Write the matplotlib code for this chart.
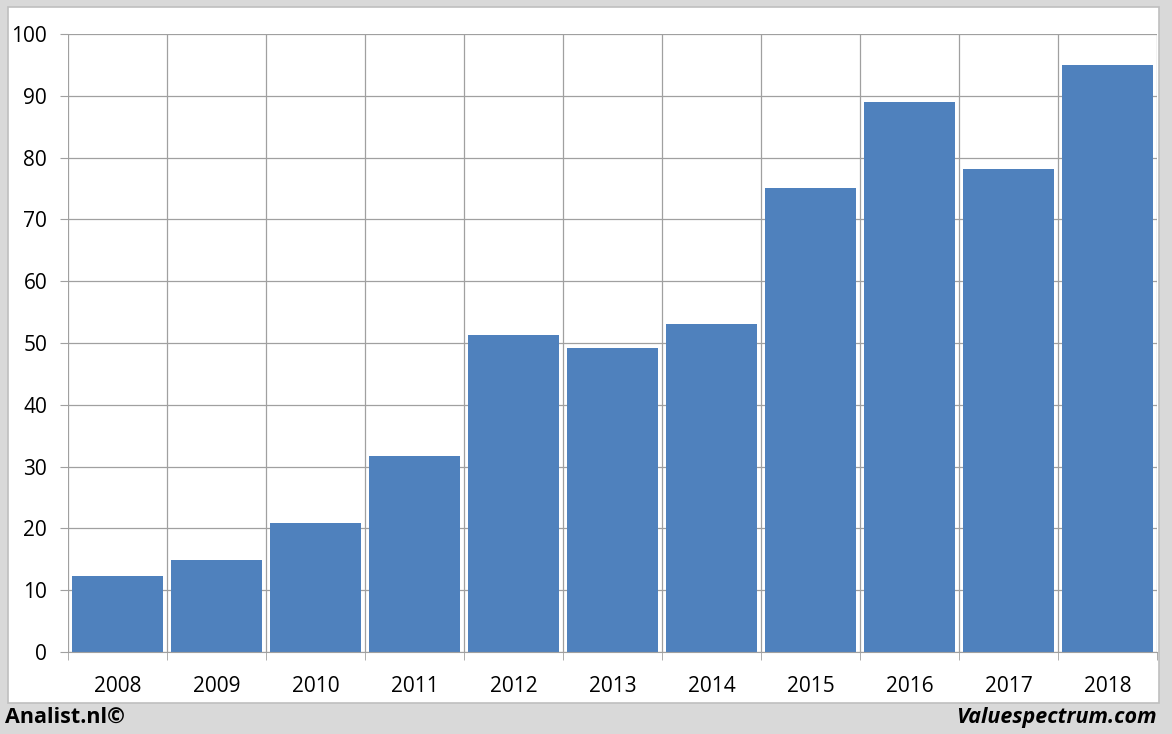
import matplotlib.pyplot as plt
from matplotlib.patches import Rectangle
from matplotlib.ticker import MultipleLocator, FixedLocator
import numpy as np

years = ["2008", "2009", "2010", "2011", "2012", "2013",
         "2014", "2015", "2016", "2017", "2018"]
values = [12.3, 14.9, 20.9, 31.7, 51.3, 49.2, 53.1, 75.1, 89.0, 78.2, 95.0]

plt.rcParams['font.family'] = ['Open Sans', 'DejaVu Sans']

fig = plt.figure(figsize=(11.72, 7.34), dpi=100)
fig.patch.set_facecolor("#d9d9d9")
# white panel behind the chart
fig.patches.append(Rectangle((8 / 1172, 1 - 703 / 734), 1151 / 1172, 696 / 734,
                             transform=fig.transFigure, facecolor="white",
                             edgecolor="#bfbfbf", linewidth=1.2, zorder=-10))

ax = fig.add_axes([68 / 1172, 82 / 734, 1089 / 1172, 618 / 734])
ax.set_facecolor("none")
x = np.arange(len(years))
ax.bar(x, values, width=0.92, color="#4f81bd", zorder=3)

ax.set_xlim(-0.5, len(years) - 0.5)
ax.set_ylim(0, 100)
ax.yaxis.set_major_locator(MultipleLocator(10))
ax.set_xticks(x)
ax.set_xticklabels(years)
ax.xaxis.set_minor_locator(FixedLocator(np.arange(-0.5, len(years), 1)))

gc = "#a0a0a0"
ax.grid(True, axis="y", which="major", color=gc, linewidth=0.9, zorder=0)
ax.grid(True, axis="x", which="minor", color=gc, linewidth=0.9, zorder=0)
ax.tick_params(axis="x", which="major", length=0, pad=17, labelsize=15)
ax.tick_params(axis="x", which="minor", length=6, color=gc, direction="out")
ax.tick_params(axis="y", which="major", length=6, color=gc, pad=9, labelsize=15)
for s in ["top", "right", "left"]:
    ax.spines[s].set_visible(False)
ax.spines["bottom"].set_color(gc)
ax.spines["bottom"].set_zorder(4)

fig.text(5 / 1172, 1 - 717 / 734, "Analist.nl©", fontsize=15.5, fontweight="bold",
         va="center", ha="left")
fig.text(1157 / 1172, 1 - 717 / 734, "Valuespectrum.com", fontsize=15.5,
         fontweight="bold", fontstyle="italic", va="center", ha="right")

fig.savefig("out.png", dpi=100, facecolor=fig.get_facecolor())
